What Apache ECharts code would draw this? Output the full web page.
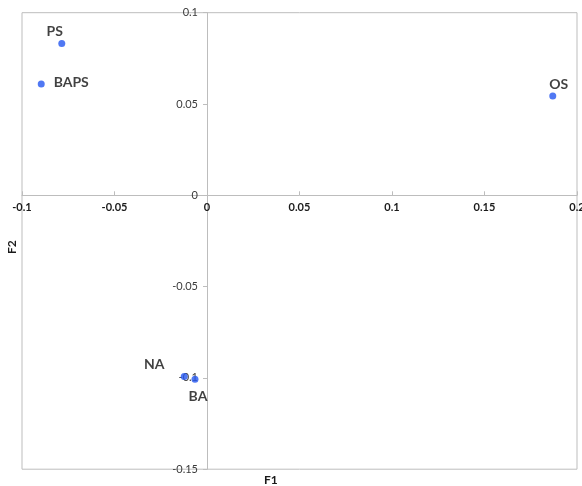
<!DOCTYPE html>
<html>
<head>
<meta charset="utf-8">
<script src="https://cdn.jsdelivr.net/npm/echarts@6/dist/echarts.min.js"></script>
<style>
  html, body { margin: 0; padding: 0; background: #fff; }
  #chart { width: 582px; height: 486px; }
</style>
</head>
<body>
<div id="chart"></div>
<script>
// Sample names and their scores on the first two factors
const names = ['PS', 'BAPS', 'OS', 'NA', 'BA'];
const f1 = [-0.0785, -0.0896, 0.1869, -0.0123, -0.0065];
const f2 = [0.0832, 0.0610, 0.0544, -0.0993, -0.1008];

// Label placement around each point (pixels)
const labelOffsets = [[-7, -12], [30, -1], [6, -11], [-30, -12], [3, 17]];

const points = names.map((n, i) => ({
  name: n,
  value: [f1[i], f2[i]],
  label: { offset: labelOffsets[i] }
}));

// Plot area, in pixels
const G = { left: 22, right: 5, top: 12.7, bottom: 16.8 };
const W = 582, H = 486;
const xMin = -0.1, xMax = 0.2, yMin = -0.15, yMax = 0.1;
const plotW = W - G.left - G.right, plotH = H - G.top - G.bottom;
// Shift the axes so they cross at (0, 0)
const xAxisShift = -plotH * (0 - yMin) / (yMax - yMin);
const yAxisShift = -plotW * (0 - xMin) / (xMax - xMin);

const chart = echarts.init(document.getElementById('chart'), null, { renderer: 'canvas' });
const axisGray = '#bdbdbd';
const font = 'Lato, "Open Sans", sans-serif';

chart.setOption({
  animation: false,
  grid: {
    left: G.left, right: G.right, top: G.top, bottom: G.bottom,
    containLabel: false, outerBoundsMode: 'none',
    show: true, borderColor: axisGray, borderWidth: 1, backgroundColor: '#fff'
  },
  xAxis: {
    type: 'value', min: xMin, max: xMax, interval: 0.05,
    position: 'bottom', offset: xAxisShift,
    axisLine: { onZero: false, lineStyle: { color: axisGray, width: 1 } },
    axisTick: { show: true, inside: true, length: 4, lineStyle: { color: axisGray } },
    axisLabel: {
      margin: 7, color: '#1a1a1a', fontWeight: 'bold', fontSize: 11, fontFamily: font,
      formatter: v => String(+v.toFixed(2))
    },
    splitLine: { show: false }
  },
  yAxis: {
    type: 'value', min: yMin, max: yMax, interval: 0.05,
    position: 'left', offset: yAxisShift,
    axisLine: { onZero: false, lineStyle: { color: axisGray, width: 1 } },
    axisTick: { show: true, length: 4, lineStyle: { color: axisGray } },
    axisLabel: {
      margin: 9, color: '#3a3a3a', fontSize: 11, fontFamily: font,
      formatter: v => String(+v.toFixed(2))
    },
    splitLine: { show: false }
  },
  graphic: [
    {
      type: 'text', left: 264, top: 474,
      style: { text: 'F1', fontSize: 12, fontWeight: 'bold', fill: '#1a1a1a', fontFamily: font }
    },
    {
      type: 'text', x: 6, y: 254, rotation: Math.PI / 2,
      style: { text: 'F2', fontSize: 12, fontWeight: 'bold', fill: '#1a1a1a', fontFamily: font }
    }
  ],
  series: [{
    type: 'scatter',
    symbol: 'circle',
    symbolSize: 7,
    itemStyle: { color: '#2456f0' },
    label: {
      show: true, position: 'inside', formatter: '{b}',
      color: '#111', fontSize: 14, fontWeight: 'bold', fontFamily: font
    },
    data: points,
    z: 5
  }]
});
</script>
</body>
</html>
